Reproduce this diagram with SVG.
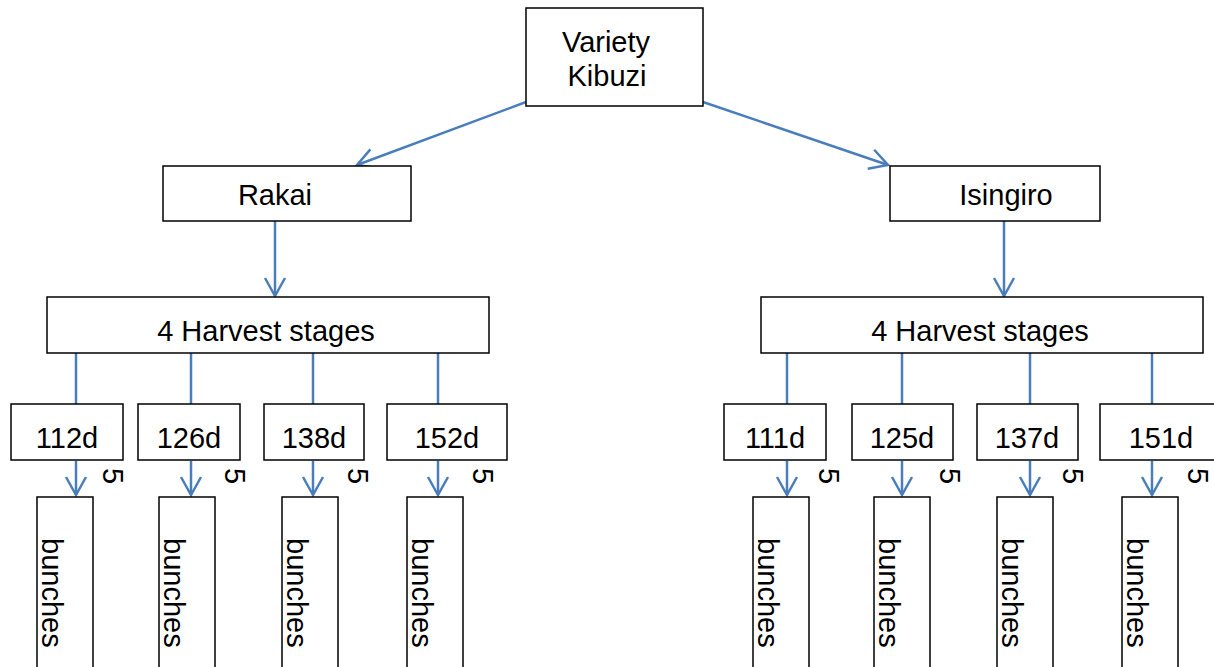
<svg xmlns="http://www.w3.org/2000/svg" width="1214" height="667" viewBox="0 0 1214 667">
<defs>
<style>
.box{fill:#fff;stroke:#000;stroke-width:1.5}
.t{font-family:"Liberation Sans",Arial,sans-serif;font-size:29px;fill:#000;text-anchor:middle}
.v{font-family:"Liberation Sans",Arial,sans-serif;font-size:29px;fill:#000}
.c{fill:none;stroke:#4a7ebb;stroke-width:2.5}
</style>
<marker id="ah" viewBox="-22 -13 26 26" refX="0" refY="0" markerWidth="26" markerHeight="26" markerUnits="userSpaceOnUse" orient="auto">
<path d="M-18,-10 L0,0 L-18,10" fill="none" stroke="#4a7ebb" stroke-width="2.5"/>
</marker>
</defs>
<rect width="1214" height="667" fill="#fff"/>
<g id="connectors">
<line class="c" x1="526" y1="102" x2="357" y2="165" marker-end="url(#ah)"/>
<line class="c" x1="703" y1="102" x2="888" y2="165" marker-end="url(#ah)"/>
<line class="c" x1="275" y1="221" x2="275" y2="296" marker-end="url(#ah)"/>
<line class="c" x1="1004" y1="221" x2="1004" y2="296" marker-end="url(#ah)"/>
<line class="c" x1="76" y1="353" x2="76" y2="404"/>
<line class="c" x1="191" y1="353" x2="191" y2="404"/>
<line class="c" x1="313" y1="353" x2="313" y2="404"/>
<line class="c" x1="438" y1="353" x2="438" y2="404"/>
<line class="c" x1="787" y1="353" x2="787" y2="404"/>
<line class="c" x1="902" y1="353" x2="902" y2="404"/>
<line class="c" x1="1030" y1="353" x2="1030" y2="404"/>
<line class="c" x1="1152" y1="353" x2="1152" y2="404"/>
<line class="c" x1="76" y1="461" x2="76" y2="495" marker-end="url(#ah)"/>
<line class="c" x1="191" y1="461" x2="191" y2="495" marker-end="url(#ah)"/>
<line class="c" x1="313" y1="461" x2="313" y2="495" marker-end="url(#ah)"/>
<line class="c" x1="438" y1="461" x2="438" y2="495" marker-end="url(#ah)"/>
<line class="c" x1="787" y1="461" x2="787" y2="495" marker-end="url(#ah)"/>
<line class="c" x1="902" y1="461" x2="902" y2="495" marker-end="url(#ah)"/>
<line class="c" x1="1030" y1="461" x2="1030" y2="495" marker-end="url(#ah)"/>
<line class="c" x1="1152" y1="461" x2="1152" y2="495" marker-end="url(#ah)"/>
</g>
<g id="variety">
<rect class="box" x="526" y="8" width="177" height="98"/>
<text class="t" x="606" y="52">Variety</text>
<text class="t" x="607" y="86">Kibuzi</text>
</g>
<g id="rakai">
<rect class="box" x="163" y="166" width="248" height="55"/>
<text class="t" x="275" y="205">Rakai</text>
</g>
<g id="isingiro">
<rect class="box" x="890" y="166" width="210" height="55"/>
<text class="t" x="1006" y="205">Isingiro</text>
</g>
<g id="harvest-left">
<rect class="box" x="47" y="297" width="442" height="56"/>
<text class="t" x="266" y="341">4 Harvest stages</text>
</g>
<g id="harvest-right">
<rect class="box" x="761" y="297" width="442" height="56"/>
<text class="t" x="980" y="341">4 Harvest stages</text>
</g>
<g id="s112"><rect class="box" x="11" y="404" width="112" height="56"/><text class="t" x="67" y="448">112d</text></g>
<g id="s126"><rect class="box" x="138" y="404" width="102" height="56"/><text class="t" x="189" y="448">126d</text></g>
<g id="s138"><rect class="box" x="264" y="404" width="100" height="56"/><text class="t" x="314" y="448">138d</text></g>
<g id="s152"><rect class="box" x="387" y="404" width="120" height="56"/><text class="t" x="447" y="448">152d</text></g>
<g id="s111"><rect class="box" x="724" y="404" width="102" height="56"/><text class="t" x="775" y="448">111d</text></g>
<g id="s125"><rect class="box" x="852" y="404" width="101" height="56"/><text class="t" x="902" y="448">125d</text></g>
<g id="s137"><rect class="box" x="977" y="404" width="101" height="56"/><text class="t" x="1027" y="448">137d</text></g>
<g id="s151"><rect class="box" x="1100" y="404" width="122" height="56"/><text class="t" x="1161" y="448">151d</text></g>
<g id="b1"><rect class="box" x="37" y="497" width="56" height="200"/><text class="v" transform="translate(42,538) rotate(90)">bunches</text><text class="v" transform="translate(103,468) rotate(90)">5</text></g>
<g id="b2"><rect class="box" x="159" y="497" width="56" height="200"/><text class="v" transform="translate(164,538) rotate(90)">bunches</text><text class="v" transform="translate(225,468) rotate(90)">5</text></g>
<g id="b3"><rect class="box" x="282" y="497" width="56" height="200"/><text class="v" transform="translate(287,538) rotate(90)">bunches</text><text class="v" transform="translate(348,468) rotate(90)">5</text></g>
<g id="b4"><rect class="box" x="407" y="497" width="56" height="200"/><text class="v" transform="translate(412,538) rotate(90)">bunches</text><text class="v" transform="translate(473,468) rotate(90)">5</text></g>
<g id="b5"><rect class="box" x="753" y="497" width="56" height="200"/><text class="v" transform="translate(758,538) rotate(90)">bunches</text><text class="v" transform="translate(819,468) rotate(90)">5</text></g>
<g id="b6"><rect class="box" x="874" y="497" width="56" height="200"/><text class="v" transform="translate(879,538) rotate(90)">bunches</text><text class="v" transform="translate(940,468) rotate(90)">5</text></g>
<g id="b7"><rect class="box" x="997" y="497" width="56" height="200"/><text class="v" transform="translate(1002,538) rotate(90)">bunches</text><text class="v" transform="translate(1063,468) rotate(90)">5</text></g>
<g id="b8"><rect class="box" x="1122" y="497" width="56" height="200"/><text class="v" transform="translate(1127,538) rotate(90)">bunches</text><text class="v" transform="translate(1188,468) rotate(90)">5</text></g>
</svg>
